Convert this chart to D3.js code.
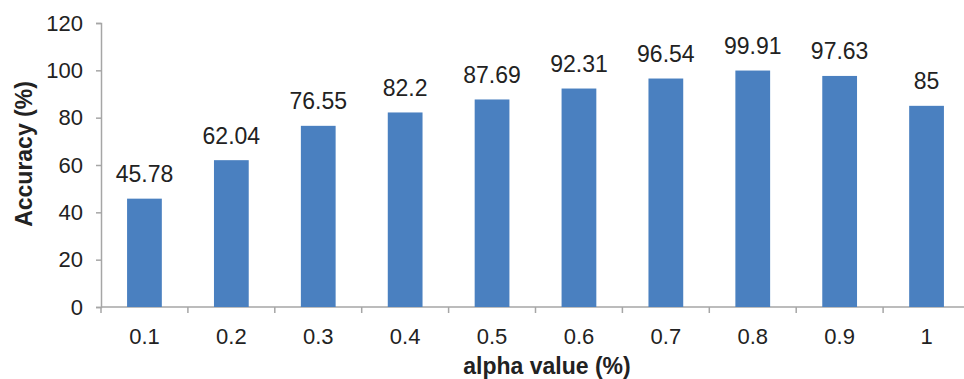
<!DOCTYPE html>
<html>
<head>
<meta charset="utf-8">
<script src="https://cdn.jsdelivr.net/npm/d3@7"></script>
<style>
  html, body { margin: 0; padding: 0; background: #fff; }
  svg { display: block; font-family: "Liberation Sans", Arial, Helvetica, sans-serif; }
</style>
</head>
<body>
<svg id="chart" width="964" height="379"></svg>
<script>
// Accuracy by alpha value
const categories = ["0.1", "0.2", "0.3", "0.4", "0.5", "0.6", "0.7", "0.8", "0.9", "1"];
const accuracy = [45.78, 62.04, 76.55, 82.2, 87.69, 92.31, 96.54, 99.91, 97.63, 85];
const yTicks = [0, 20, 40, 60, 80, 100, 120];

const svg = d3.select("#chart");
const plotLeft = 101, plotRight = 970, plotTop = 23, plotBottom = 307;

const x = d3.scaleBand().domain(categories).range([plotLeft, plotRight]).paddingInner(0.6).paddingOuter(0.3);
const y = d3.scaleLinear().domain([0, 120]).range([plotBottom, plotTop]);

const axisColor = "#a6a6a6";
const textColor = "#222";
const tickFont = 22, valueFont = 23, titleFont = 23;

// y axis
const yAxis = svg.append("g").attr("transform", `translate(${plotLeft},0)`)
  .call(d3.axisLeft(y).tickValues(yTicks).tickSize(5).tickPadding(13));
yAxis.select(".domain").attr("stroke", axisColor).attr("stroke-width", 1.5);
yAxis.selectAll(".tick line").attr("stroke", axisColor).attr("stroke-width", 1.5);
yAxis.selectAll(".tick text").attr("font-size", tickFont).attr("fill", textColor).attr("font-family", null);

// x axis with ticks on band boundaries
const xAxisG = svg.append("g").attr("transform", `translate(0,${plotBottom})`);
xAxisG.append("line").attr("x1", plotLeft).attr("x2", plotRight).attr("stroke", axisColor).attr("stroke-width", 1.5);
const step = x.step();
const boundaries = d3.range(categories.length + 1).map(i => plotLeft + i * step);
xAxisG.selectAll("line.tk").data(boundaries).join("line").attr("class", "tk")
  .attr("x1", d => d).attr("x2", d => d).attr("y1", 0).attr("y2", 6)
  .attr("stroke", axisColor).attr("stroke-width", 1.5);
xAxisG.selectAll("text").data(categories).join("text")
  .attr("x", d => x(d) + x.bandwidth() / 2).attr("y", 37)
  .attr("text-anchor", "middle").attr("font-size", tickFont).attr("fill", textColor)
  .text(d => d);

// bars
svg.append("g").selectAll("rect").data(categories).join("rect")
  .attr("x", d => x(d)).attr("width", x.bandwidth())
  .attr("y", (d, i) => y(accuracy[i])).attr("height", (d, i) => y(0) - y(accuracy[i]))
  .attr("fill", "#4a80c0");

// value labels
svg.append("g").selectAll("text").data(categories).join("text")
  .attr("x", d => x(d) + x.bandwidth() / 2)
  .attr("y", (d, i) => y(accuracy[i]) - 16.5)
  .attr("text-anchor", "middle").attr("font-size", valueFont).attr("fill", textColor)
  .text((d, i) => accuracy[i]);

// axis titles
svg.append("text").attr("x", 547).attr("y", 374).attr("text-anchor", "middle")
  .attr("font-size", titleFont).attr("font-weight", "bold").attr("fill", textColor)
  .text("alpha value (%)");
svg.append("text").attr("transform", "translate(32,154) rotate(-90)").attr("text-anchor", "middle")
  .attr("font-size", titleFont).attr("font-weight", "bold").attr("fill", textColor)
  .text("Accuracy (%)");
</script>
</body>
</html>
